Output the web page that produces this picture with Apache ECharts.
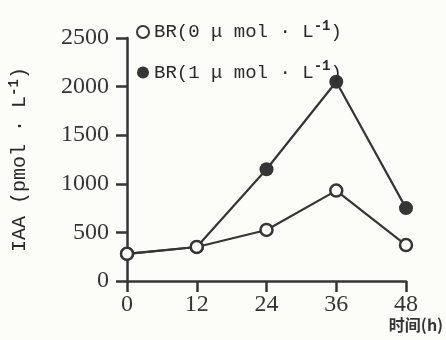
<!DOCTYPE html>
<html><head><meta charset="utf-8">
<script src="https://cdn.jsdelivr.net/npm/echarts@6/dist/echarts.min.js"></script>
<style>html,body{margin:0;padding:0;background:#fcfcf9}#c{width:446px;height:340px}</style>
</head><body><div id="c"></div>
<script>
const hours = [0, 12, 24, 36, 48];
const br0 = [280, 350, 525, 930, 370];
const br1 = [280, 350, 1150, 2050, 750];
const seriesNames = ['BR(0 μ mol · L^-1)', 'BR(1 μ mol · L^-1)'];
const yTicks = [0, 500, 1000, 1500, 2000, 2500];
const xTicks = [0, 12, 24, 36, 48];

const ink = '#353535';
const font = '"Liberation Serif", "DejaVu Serif", serif';
const mono = '"Liberation Mono", "DejaVu Sans Mono", monospace';
function sup(s, cls) {
  const parts = s.split('^');
  if (parts.length < 2) return '{' + cls + '|' + s + '}';
  const m = parts[1].match(/^(-?\d+)(.*)$/);
  return '{' + cls + '|' + parts[0] + '}{' + cls + 's|' + m[1] + '}{' + cls + '|' + m[2] + '}';
}
const chart = echarts.init(document.getElementById('c'));
chart.setOption({
  backgroundColor: '#fcfcf9',
  animation: false,
  grid: { left: 127, right: 40, top: 38, bottom: 59, outerBoundsMode: 'none', containLabel: false },
  legend: {
    orient: 'vertical', left: 131, top: 14, itemGap: 18,
    itemWidth: 12, itemHeight: 12,
    data: [
      { name: seriesNames[0], icon: 'circle', itemStyle: { color: '#fcfcf9', borderColor: ink, borderWidth: 2 } },
      { name: seriesNames[1], icon: 'circle', itemStyle: { color: ink, borderWidth: 0 } }
    ],
    formatter: n => sup(n, 'a'),
    textStyle: {
      rich: {
        a: { fontFamily: mono, fontSize: 19, color: '#2a2a2a', lineHeight: 28 },
        as: { fontFamily: mono, fontSize: 14, fontWeight: 'bold', color: '#2a2a2a', padding: [0, 0, 12, 0] }
      }
    }
  },
  xAxis: {
    type: 'value', min: xTicks[0], max: xTicks[xTicks.length - 1], interval: 12,
    name: '时间(h)', nameLocation: 'end', nameGap: 10,
    nameTextStyle: { fontFamily: '"Noto Sans CJK SC", sans-serif', fontSize: 16, fontWeight: 'bold', color: ink, align: 'center', verticalAlign: 'top', padding: [36, 0, 0, 0] },
    splitLine: { show: false },
    axisLine: { lineStyle: { color: ink, width: 2.5 } },
    axisTick: { length: 11, lineStyle: { color: ink, width: 2.5 } },
    axisLabel: { fontFamily: font, fontSize: 24, color: ink, margin: 12, formatter: v => String(v) }
  },
  yAxis: {
    type: 'value', min: yTicks[0], max: yTicks[yTicks.length - 1], interval: 500,
    name: sup('IAA (pmol · L^-1)', 'n'), nameLocation: 'middle', nameGap: 94, nameRotate: 90,
    nameTextStyle: {
      rich: {
        n: { fontFamily: mono, fontSize: 20, color: '#2a2a2a', lineHeight: 26 },
        ns: { fontFamily: mono, fontSize: 14, fontWeight: 'bold', color: '#2a2a2a', padding: [0, 0, 12, 0] }
      }
    },
    splitLine: { show: false },
    axisLine: { show: true, lineStyle: { color: ink, width: 2.5 } },
    axisTick: { show: true, length: 11, lineStyle: { color: ink, width: 2.5 } },
    axisLabel: { fontFamily: font, fontSize: 24, color: ink, margin: 18, formatter: v => String(v) }
  },
  series: [
    {
      name: seriesNames[0], type: 'line', z: 5,
      data: hours.map((h, i) => [h, br0[i]]),
      symbol: 'circle', symbolSize: 12,
      lineStyle: { color: ink, width: 2.2 },
      itemStyle: { color: '#fcfcf9', borderColor: ink, borderWidth: 2.5 }
    },
    {
      name: seriesNames[1], type: 'line', z: 3,
      data: hours.map((h, i) => [h, br1[i]]),
      symbol: 'circle', symbolSize: 14,
      lineStyle: { color: ink, width: 2.2 },
      itemStyle: { color: ink, borderWidth: 0 }
    }
  ]
});
</script></body></html>
